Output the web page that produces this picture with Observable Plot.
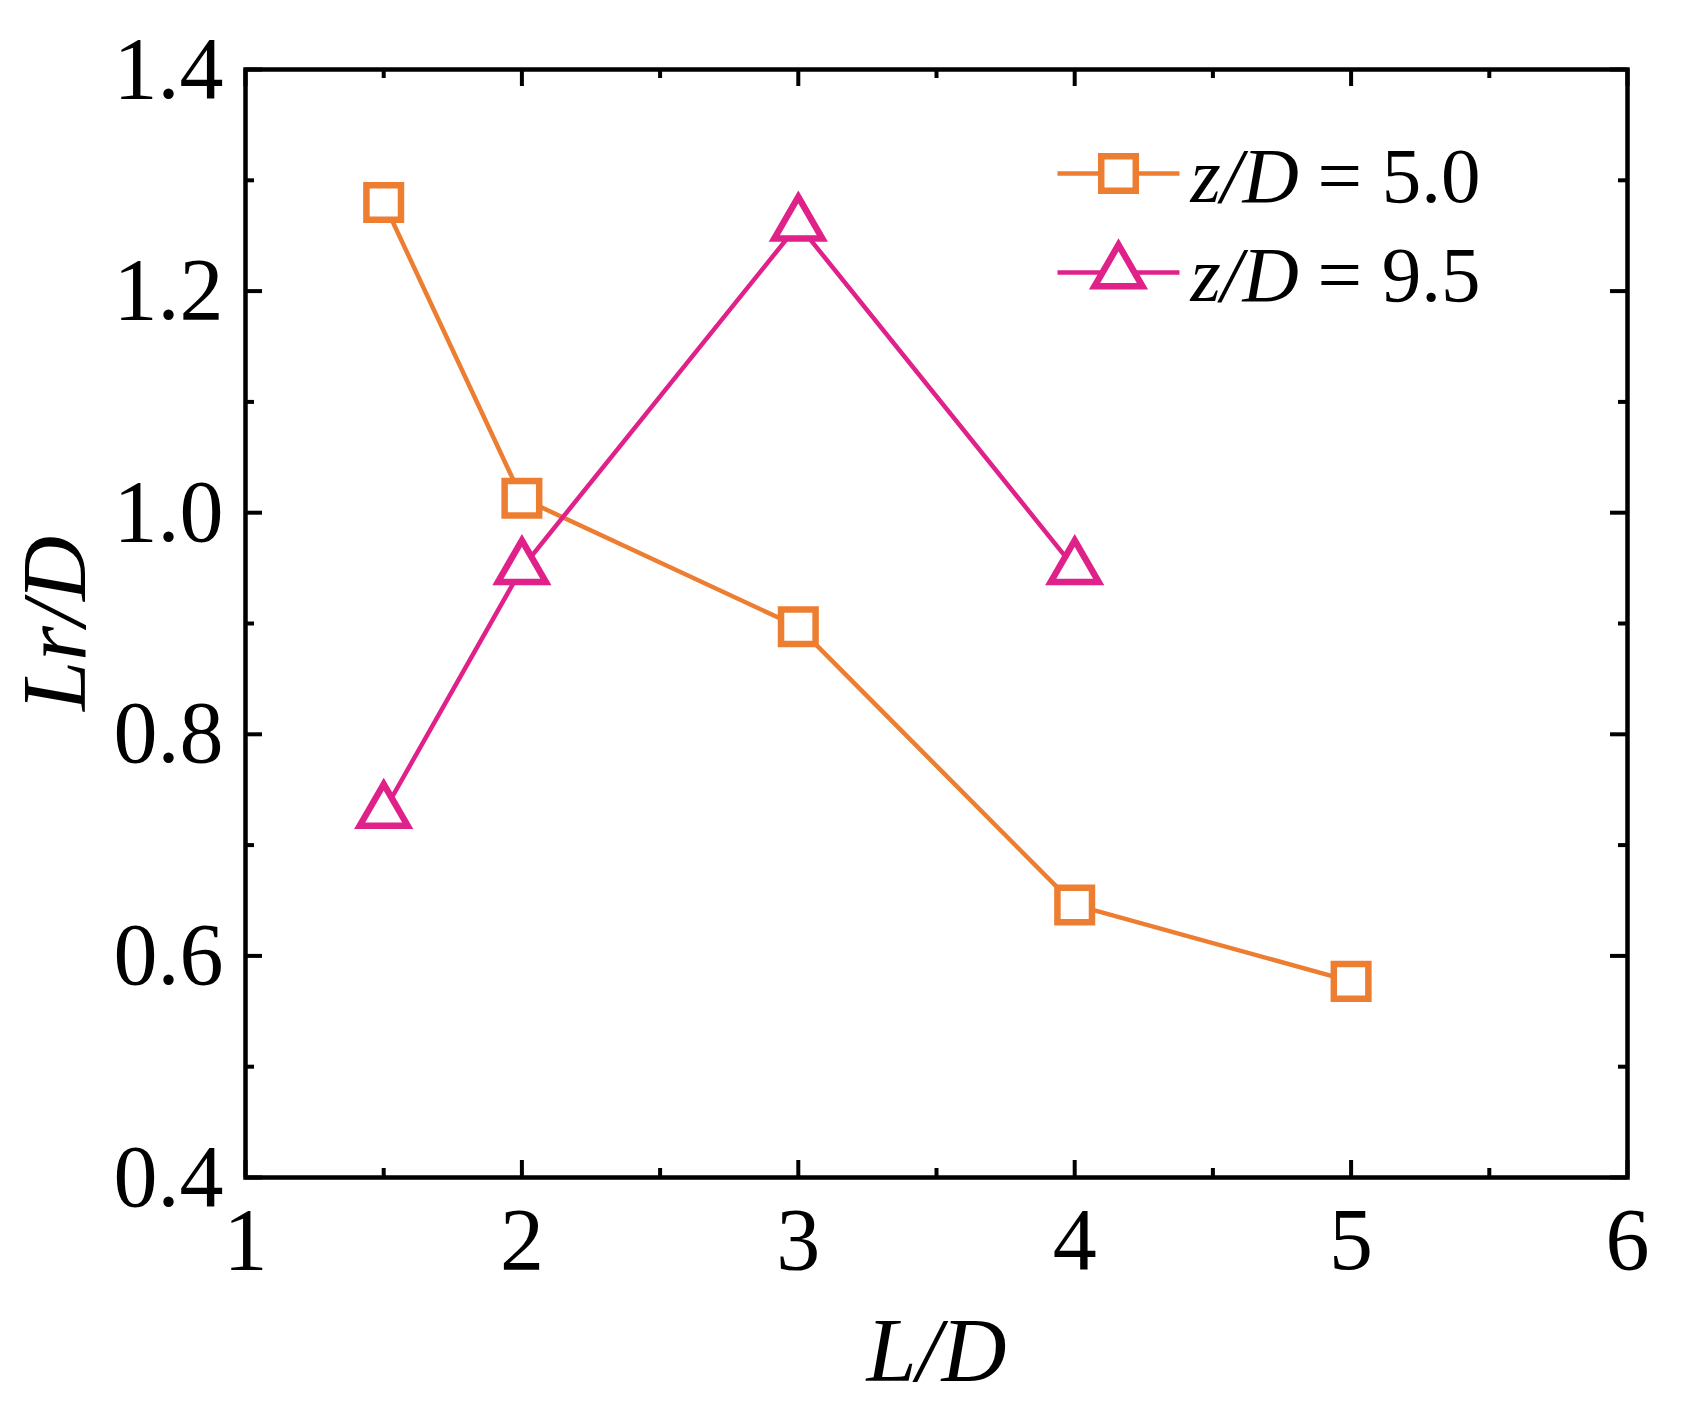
<!DOCTYPE html>
<html>
<head>
<meta charset="utf-8">
<script src="https://cdn.jsdelivr.net/npm/d3@7"></script>
<script src="https://cdn.jsdelivr.net/npm/@observablehq/plot@0.6"></script>
<style>
  html, body { margin: 0; padding: 0; background: #fff; }
  #chart svg { display: block; }
</style>
</head>
<body>
<div id="chart"></div>
<script>
// ---- data ----
const xLD50 = [1.5, 2, 3, 4, 5];
const lr50 = [1.28, 1.013, 0.897, 0.646, 0.577];
const xLD95 = [1.5, 2, 3, 4];
const lr95 = [0.73, 0.95, 1.26, 0.95];
const seriesNames = ["z/D = 5.0", "z/D = 9.5"];
const seriesItalic = ["z/D", "z/D"];
const seriesValueText = ["= 5.0", "= 9.5"];
const seriesColors = ["#ED7D31", "#E0218A"];
const seriesSymbols = ["square", "triangle"];
const xTickValues = [1, 2, 3, 4, 5, 6];
const xMinorTicks = [1.5, 2.5, 3.5, 4.5, 5.5];
const yTickValues = [0.4, 0.6, 0.8, 1.0, 1.2, 1.4];
const yMinorTicks = [0.5, 0.7, 0.9, 1.1, 1.3];
const xTitle = "L/D";
const yTitle = "Lr/D";

const rows = [
  ...xLD50.map((x, i) => ({x, y: lr50[i], s: seriesNames[0]})),
  ...xLD95.map((x, i) => ({x, y: lr95[i], s: seriesNames[1]}))
];

const W = 1686, H = 1405;
const mL = 245, mR = 59, mT = 69, mB = 228;
const fw = W - mL - mR, fh = H - mT - mB;
const font = "'Liberation Serif', 'Times New Roman', serif";
const majorLen = 17, minorLen = 9;
const symR = {square: 19.5, triangle: 17.8};

const legendLine = {draw(ctx, size) { const h = Math.sqrt(size) / 2; ctx.moveTo(-h, 0); ctx.lineTo(h, 0); }};

const marks = [];
// inward ticks, all four sides
for (const [vals, len] of [[xTickValues, majorLen], [xMinorTicks, minorLen]]) {
  marks.push(Plot.ruleX(vals, {x: d => d, insetTop: fh - len, stroke: "black", strokeWidth: 4}));
  marks.push(Plot.ruleX(vals, {x: d => d, insetBottom: fh - len, stroke: "black", strokeWidth: 4}));
}
for (const [vals, len] of [[yTickValues, majorLen], [yMinorTicks, minorLen]]) {
  marks.push(Plot.ruleY(vals, {y: d => d, insetRight: fw - len, stroke: "black", strokeWidth: 4}));
  marks.push(Plot.ruleY(vals, {y: d => d, insetLeft: fw - len, stroke: "black", strokeWidth: 4}));
}
marks.push(Plot.frame({stroke: "black", strokeWidth: 4.5}));

// data
seriesNames.forEach((name, k) => {
  const d = rows.filter(r => r.s === name);
  marks.push(Plot.line(d, {x: "x", y: "y", stroke: seriesColors[k], strokeWidth: 4.5}));
});
seriesNames.forEach((name, k) => {
  const d = rows.filter(r => r.s === name);
  marks.push(Plot.dot(d, {x: "x", y: "y", symbol: () => seriesSymbols[k], r: symR[seriesSymbols[k]],
    stroke: seriesColors[k], strokeWidth: 6.5, fill: "white", strokeLinejoin: "miter"}));
});

// legend (pixel offsets from the frame's top-left corner)
const legCx = 873, legRow0 = 104, legRowStep = 99;
seriesNames.forEach((name, k) => {
  const dy = legRow0 + k * legRowStep;
  marks.push(Plot.dot([name], {frameAnchor: "top-left", dx: legCx, dy, symbol: legendLine, r: 122 / Math.sqrt(Math.PI),
    stroke: seriesColors[k], strokeWidth: 4.5, fill: "none"}));
  marks.push(Plot.dot([name], {frameAnchor: "top-left", dx: legCx, dy, symbol: seriesSymbols[k], r: symR[seriesSymbols[k]],
    stroke: seriesColors[k], strokeWidth: 6.5, fill: "white", strokeLinejoin: "miter"}));
  marks.push(Plot.text([seriesItalic[k]], {frameAnchor: "top-left", dx: 945, dy: dy + 28, text: d => d,
    textAnchor: "start", lineAnchor: "bottom", fontSize: 78, fontStyle: "italic", fontFamily: font, fill: "black"}));
  marks.push(Plot.text([seriesValueText[k]], {frameAnchor: "top-left", dx: 1072, dy: dy + 28, text: d => d,
    textAnchor: "start", lineAnchor: "bottom", fontSize: 79, fontFamily: font, fill: "black"}));
});

// axes
marks.push(Plot.axisX({ticks: xTickValues, tickSize: 0, tickPadding: 29, fontSize: 88, fontFamily: font,
  tickFormat: d => String(d), label: null}));
marks.push(Plot.axisY({ticks: yTickValues, tickSize: 0, tickPadding: 22, fontSize: 88, fontFamily: font,
  tickFormat: d => d.toFixed(1), label: null}));
marks.push(Plot.text([xTitle], {frameAnchor: "bottom", dy: 203, text: d => d, lineAnchor: "bottom", textAnchor: "middle",
  fontSize: 90, fontStyle: "italic", fontFamily: font, fill: "black"}));
marks.push(Plot.text([yTitle], {frameAnchor: "left", dx: -161, text: d => d, lineAnchor: "bottom", textAnchor: "middle", rotate: -90,
  fontSize: 90, fontStyle: "italic", fontFamily: font, fill: "black"}));

const chart = Plot.plot({
  width: W, height: H,
  marginLeft: mL, marginRight: mR, marginTop: mT, marginBottom: mB,
  style: {fontFamily: font, background: "white", color: "black"},
  x: {domain: [1, 6], axis: null},
  y: {domain: [0.4, 1.4], axis: null},
  marks
});
document.getElementById("chart").appendChild(chart);
</script>
</body>
</html>
